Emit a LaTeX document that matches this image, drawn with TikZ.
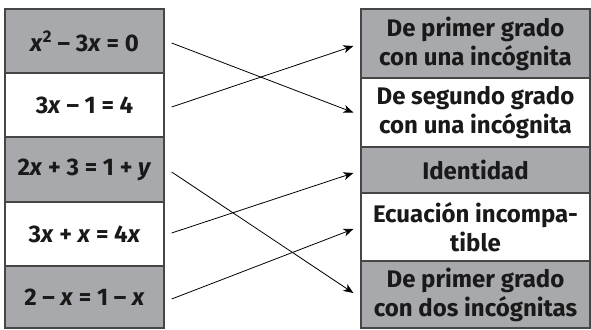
\documentclass[tikz,border=0pt]{standalone}
\usepackage{fontspec}
\setmainfont{Fira Sans}
\usetikzlibrary{arrows.meta,calc}
\definecolor{boxgray}{RGB}{167,169,172}
\definecolor{boxline}{RGB}{70,70,70}
\tikzset{
  cell/.style={draw=boxline, line width=1.3pt, inner sep=0pt, align=center,
    font=\fontsize{24}{29}\selectfont\bfseries, text=black!90},
  lcell/.style={cell, minimum width=159pt},
  rcell/.style={cell, minimum width=229pt},
  shaded/.style={fill=boxgray},
  plain/.style={fill=white},
  link/.style={line width=0.8pt, -{Stealth[length=10pt,width=8pt,inset=3pt]}},
}
\newcommand{\vx}{\textit{x}}
\newcommand{\vy}{\textit{y}}
\begin{document}
\begin{tikzpicture}[x=1pt,y=-1pt]
\useasboundingbox (0,0) rectangle (591,329);
% left column
\node[lcell,shaded,minimum height=64pt] (l1) at (84.5,41) {\vx\textsuperscript{2} – 3\vx{} = 0};
\node[lcell,plain,minimum height=64pt] (l2) at (84.5,105) {3\vx{} – 1 = 4};
\node[lcell,shaded,minimum height=65pt] (l3) at (84.5,169.5) {2\vx{} + 3 = 1 + \vy};
\node[lcell,plain,minimum height=64pt] (l4) at (84.5,234) {3\vx{} + \vx{} = 4\vx};
\node[lcell,shaded,minimum height=62pt] (l5) at (84.5,297) {2 – \vx{} = 1 – \vx};
% right column
\node[rcell,shaded,minimum height=69pt] (r1) at (475.5,43.5) {De primer grado\\con una incógnita};
\node[rcell,plain,minimum height=69pt] (r2) at (475.5,112.5) {De segundo grado\\con una incógnita};
\node[rcell,shaded,minimum height=46pt] (r3) at (475.5,170) {Identidad};
\node[rcell,plain,minimum height=68pt] (r4) at (475.5,227) {Ecuación incompa-\\tible};
\node[rcell,shaded,minimum height=67pt] (r5) at (475.5,294.5) {De primer grado\\con dos incógnitas};
% connectors
\draw[link] ($(l1.east)+(7,2)$) -- ($(r2.west)+(-7,0)$);
\draw[link] ($(l2.east)+(7,2)$) -- ($(r1.west)+(-7,2.5)$);
\draw[link] ($(l3.east)+(7,2.5)$) -- ($(r5.west)+(-7,-1.5)$);
\draw[link] ($(l4.east)+(7,-1)$) -- ($(r3.west)+(-7,3)$);
\draw[link] ($(l5.east)+(7,2)$) -- ($(r4.west)+(-7,2)$);
\end{tikzpicture}
\end{document}
